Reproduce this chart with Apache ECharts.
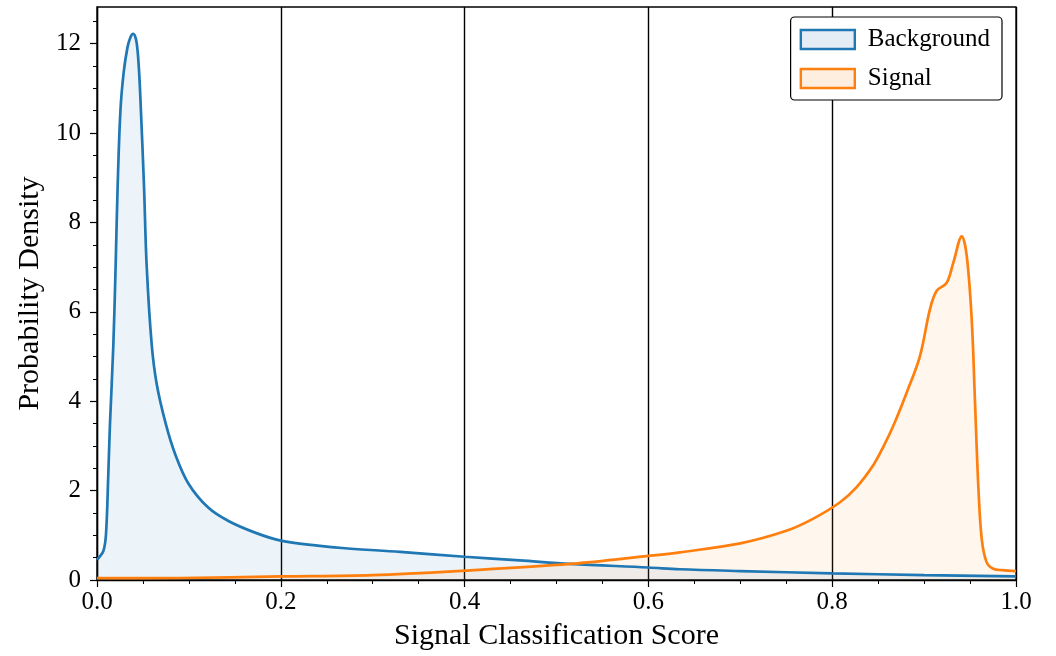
<!DOCTYPE html>
<html>
<head>
<meta charset="utf-8">
<script src="https://cdn.jsdelivr.net/npm/echarts@6/dist/echarts.min.js"></script>
<style>
  html, body { margin: 0; padding: 0; background: #fff; }
  #chart { width: 1056px; height: 656px; }
</style>
</head>
<body>
<div id="chart"></div>
<script>
// background KDE (blue)
const bgX = [0, 0.002, 0.007, 0.0098, 0.0123, 0.0141, 0.0178, 0.0203, 0.0225, 0.0255, 0.029, 0.033, 0.0365, 0.0395,
  0.0424, 0.0442, 0.046, 0.0475, 0.0511, 0.054, 0.0595, 0.065, 0.075, 0.085, 0.0994, 0.121, 0.143, 0.172, 0.2, 0.24,
  0.27, 0.33, 0.4, 0.46, 0.515, 0.6, 0.634, 0.7, 0.8, 0.9, 1.0];
const bgY = [0.45, 0.5, 0.65, 1.03, 2.37, 3.48, 5.27, 7.05, 8.84, 10.5, 11.35, 11.9, 12.15, 12.22,
  12.1, 11.83, 11.3, 10.64, 8.84, 7.05, 5.27, 4.38, 3.48, 2.82, 2.16, 1.62, 1.32, 1.06, 0.88, 0.77,
  0.71, 0.63, 0.52, 0.44, 0.36, 0.28, 0.24, 0.2, 0.15, 0.11, 0.08];

// signal KDE (orange)
const sigX = [0, 0.09, 0.2, 0.3, 0.4, 0.515, 0.6, 0.634, 0.7, 0.75, 0.78, 0.8085, 0.8266, 0.845, 0.8556, 0.8665,
  0.881, 0.8955, 0.9064, 0.9137, 0.9246, 0.9318, 0.941, 0.9464, 0.9518, 0.9554, 0.959, 0.9627, 0.968, 0.9753,
  0.985, 1.0];
const sigY = [0.04, 0.045, 0.08, 0.11, 0.21, 0.36, 0.54, 0.62, 0.82, 1.1, 1.38, 1.74, 2.08, 2.58, 2.98, 3.45,
  4.19, 5.01, 6.06, 6.47, 6.65, 7.1, 7.69, 7.25, 5.83, 3.98, 2.1, 0.92, 0.4, 0.25,
  0.22, 0.2];

const yTicks = [0, 2, 4, 6, 8, 10, 12];
const yMinor = [];
for (let v = 0.5; v < 12.8; v += 0.5) if (v % 2 !== 0) yMinor.push(v);

const font = "Liberation Serif";
const chart = echarts.init(document.getElementById("chart"), null, { renderer: "canvas" });

const pairs = (xs, ys) => xs.map((x, i) => [x, ys[i]]);

chart.setOption({
  animation: false,
  backgroundColor: "#fff",
  textStyle: { fontFamily: font, color: "#000" },
  grid: {
    left: 97, right: 40, top: 7, bottom: 75,
    show: true, borderColor: "#000", borderWidth: 1.3, backgroundColor: "transparent"
  },
  legend: {
    orient: "vertical",
    right: 54, top: 17,
    icon: "rect",
    itemWidth: 54, itemHeight: 19, itemGap: 14,
    padding: [10, 12, 9, 9],
    backgroundColor: "#fff",
    borderColor: "#000", borderWidth: 1.2, borderRadius: 4,
    textStyle: { fontFamily: font, fontSize: 25, color: "#000", padding: [0, 0, 0, 8] },
    data: [
      { name: "Background", itemStyle: { color: "#e4edf6", borderColor: "#1f77b4", borderWidth: 2.4 } },
      { name: "Signal", itemStyle: { color: "#fdeee0", borderColor: "#ff7f0e", borderWidth: 2.4 } }
    ]
  },
  xAxis: {
    type: "value", min: 0, max: 1, interval: 0.2,
    name: "Signal Classification Score", nameLocation: "middle", nameGap: 41,
    nameTextStyle: { fontFamily: font, fontSize: 30, color: "#000" },
    axisLine: { lineStyle: { color: "#000", width: 1.3 } },
    axisTick: { length: 7, lineStyle: { color: "#000", width: 1.2 } },
    minorTick: { show: true, splitNumber: 4, length: 4, lineStyle: { color: "#000", width: 1 } },
    axisLabel: { fontFamily: font, fontSize: 25, color: "#000", margin: 10,
      formatter: v => v.toFixed(1) },
    splitLine: { show: true, lineStyle: { color: "#000", width: 1.4 } }
  },
  yAxis: [{
    type: "value", min: 0, max: 12.82,
    name: "Probability Density", nameLocation: "middle", nameGap: 50,
    nameTextStyle: { fontFamily: font, fontSize: 30, color: "#000" },
    axisLine: { show: true, lineStyle: { color: "#000", width: 1.3 } },
    axisTick: { show: true, length: 7, customValues: yTicks, lineStyle: { color: "#000", width: 1.2 } },
    axisLabel: { fontFamily: font, fontSize: 25, color: "#000", margin: 16, customValues: yTicks },
    splitLine: { show: false }
  }, {
    type: "value", min: 0, max: 12.82, position: "left",
    axisLine: { show: false },
    axisTick: { show: true, length: 4, customValues: yMinor, lineStyle: { color: "#000", width: 1 } },
    axisLabel: { show: false },
    splitLine: { show: false }
  }],
  series: [{
    name: "Background", type: "line", data: pairs(bgX, bgY),
    showSymbol: false, smooth: 0.35,
    lineStyle: { color: "#1f77b4", width: 2.7 },
    itemStyle: { color: "#1f77b4" },
    areaStyle: { color: "rgba(31,119,180,0.11)" }
  }, {
    name: "Signal", type: "line", data: pairs(sigX, sigY),
    showSymbol: false, smooth: 0.35,
    lineStyle: { color: "#ff7f0e", width: 2.7 },
    itemStyle: { color: "#ff7f0e" },
    areaStyle: { color: "rgba(255,127,14,0.1)" }
  }]
});
</script>
</body>
</html>
